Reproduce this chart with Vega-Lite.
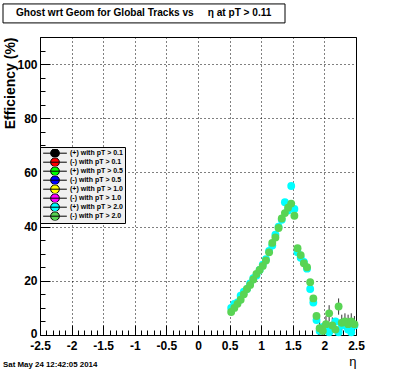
{
  "$schema": "https://vega.github.io/schema/vega-lite/v6.json",
  "background": "white",
  "autosize": "none",
  "width": 316,
  "height": 298,
  "padding": {"left": 40, "top": 37, "right": 40, "bottom": 37},
  "config": {
    "font": "Liberation Sans",
    "view": {"stroke": "black", "strokeWidth": 1, "fill": "white"}
  },
  "resolve": {"axis": {"x": "independent", "y": "independent"}},
  "layer": [
    {
      "data": {"values": [{"part": "title box"}]},
      "mark": {"type": "rect", "fill": "white", "stroke": "black", "strokeWidth": 1, "clip": false},
      "encoding": {
        "x": {"datum": -3.0854, "axis": null},
        "x2": {"datum": 1.3766},
        "y": {"datum": 122.2, "axis": null},
        "y2": {"datum": 115.2}
      }
    },
    {
      "data": {"values": [{"t": "Ghost wrt Geom for Global Tracks vs\u00a0\u00a0\u00a0\u00a0\u00a0η at pT > 0.11"}]},
      "mark": {"type": "text", "fontSize": 10.1, "fontWeight": "bold", "font": "Liberation Sans", "color": "black", "align": "center", "baseline": "middle", "clip": false},
      "encoding": {
        "x": {"datum": -0.86, "axis": null},
        "y": {"datum": 118.7, "axis": null},
        "text": {"field": "t", "type": "nominal"}
      }
    },
    {
      "data": {"values": [{"d": "Sat May 24 12:42:05 2014"}]},
      "mark": {"type": "text", "fontSize": 7.9, "fontWeight": "bold", "font": "Liberation Sans", "color": "black", "align": "left", "baseline": "middle", "clip": false},
      "encoding": {
        "x": {"datum": -3.0854, "axis": null},
        "y": {"datum": -10.9, "axis": null},
        "text": {"field": "d", "type": "nominal"}
      }
    },
    {
      "data": {"name": "eff"},
      "mark": {"type": "rule", "color": "#333333", "strokeWidth": 1},
      "encoding": {
        "x": {"field": "eta", "type": "quantitative", "axis": null},
        "y": {"field": "lo", "type": "quantitative", "axis": null},
        "y2": {"field": "hi"}
      }
    },
    {
      "data": {"name": "eff"},
      "mark": {"type": "point", "filled": true, "shape": "circle", "size": 62, "opacity": 1},
      "encoding": {
        "x": {
          "field": "eta", "type": "quantitative",
          "scale": {"domain": [-2.5, 2.5], "nice": false, "zero": false},
          "axis": {
            "values": [-2.5,-2.4,-2.3,-2.2,-2.1,-2,-1.9,-1.8,-1.7,-1.6,-1.5,-1.4,-1.3,-1.2,-1.1,-1,-0.9,-0.8,-0.7,-0.6,-0.5,-0.4,-0.3,-0.2,-0.1,0,0.1,0.2,0.3,0.4,0.5,0.6,0.7,0.8,0.9,1,1.1,1.2,1.3,1.4,1.5,1.6,1.7,1.8,1.9,2,2.1,2.2,2.3,2.4,2.5],
            "format": "~g",
            "labelExpr": "abs(datum.value*2 - round(datum.value*2)) < 0.001 ? replace(datum.label, '\u2212', '-') : ''",
            "tickSize": {"condition": {"test": "abs(datum.value*2 - round(datum.value*2)) < 0.001", "value": -10}, "value": -5},
            "gridOpacity": {"condition": {"test": "abs(datum.value*2 - round(datum.value*2)) < 0.001", "value": 1}, "value": 0},
            "grid": true, "gridColor": "black", "gridDash": [1, 3], "gridWidth": 1,
            "tickColor": "black", "tickWidth": 1, "domain": false,
            "labelFont": "Liberation Sans", "labelFontSize": 12, "labelFontWeight": "bold", "labelColor": "black",
            "labelPadding": 15, "labelOverlap": false, "labelFlush": false, "labelBound": false,
            "title": "η", "titleAnchor": "end", "titleFontSize": 13, "titleFontWeight": "normal", "titleColor": "black", "titlePadding": -1
          }
        },
        "y": {
          "field": "eff", "type": "quantitative",
          "scale": {"domain": [0, 110], "nice": false, "zero": false},
          "axis": {
            "values": [0,5,10,15,20,25,30,35,40,45,50,55,60,65,70,75,80,85,90,95,100,105,110],
            "format": "d",
            "labelExpr": "datum.value % 20 == 0 ? datum.label : ''",
            "labelOffset": {"condition": {"test": "datum.value == 0", "value": -2}, "value": 0},
            "tickSize": {"condition": {"test": "datum.value % 20 == 0", "value": -10}, "value": -5},
            "gridOpacity": {"condition": {"test": "datum.value % 20 == 0 && datum.value > 0", "value": 1}, "value": 0},
            "grid": true, "gridColor": "black", "gridDash": [1, 3], "gridWidth": 1,
            "tickColor": "black", "tickWidth": 1, "domain": false,
            "labelFont": "Liberation Sans", "labelFontSize": 12, "labelFontWeight": "bold", "labelColor": "black",
            "labelPadding": 13, "labelOverlap": false, "labelFlush": false, "labelBound": false,
            "title": "Efficiency (%)", "titleAnchor": "end", "titleFontSize": 14, "titleFontWeight": "bold", "titleColor": "black", "titlePadding": -1
          }
        },
        "color": {
          "field": "s", "type": "nominal",
          "scale": {
            "domain": ["(+) with pT > 0.1", "(-) with pT > 0.1", "(+) with pT > 0.5", "(-) with pT > 0.5", "(+) with pT > 1.0", "(-) with pT > 1.0", "(+) with pT > 2.0", "(-) with pT > 2.0"],
            "range": ["#000000", "#ff0000", "#00ff00", "#0000ff", "#ffff00", "#ff00ff", "#00ffff", "#59d454"]
          },
          "legend": {
            "orient": "none", "legendX": 0, "legendY": 110,
            "title": null,
            "fillColor": "#f0f0f0", "strokeColor": "black", "padding": 2,
            "labelFont": "Liberation Sans", "labelFontSize": 7, "labelFontWeight": "bold", "labelColor": "black",
            "symbolType": "M-2.7,0L-1,0A1,1 0 0,1 0,-1A1,1 0 0,1 1,0A1,1 0 0,1 0,1A1,1 0 0,1 -1,0L1,0L2.7,0",
            "symbolSize": 77,
            "symbolStrokeColor": "black",
            "symbolStrokeWidth": 1,
            "symbolOffset": 8,
            "labelOffset": 10,
            "clipHeight": 8.4,
            "rowPadding": 0,
            "encode": {
              "symbols": {"update": {
                "shape": {"value": "M-2.7,0L-1,0A1,1 0 0,1 0,-1A1,1 0 0,1 1,0A1,1 0 0,1 0,1A1,1 0 0,1 -1,0L1,0L2.7,0"},
                "size": {"value": 77},
                "stroke": {"value": "black"},
                "strokeWidth": {"value": 1},
                "strokeOpacity": {"value": 1},
                "strokeDash": {"value": [7.46, 36.34, 7.46, 60]},
                "opacity": {"value": 1}
              }}
            }
          }
        }
      }
    }
  ],
  "datasets": {
    "eff": [
      {"s": "(+) with pT > 2.0", "eta": 0.525, "eff": 10},
      {"s": "(+) with pT > 2.0", "eta": 0.575, "eff": 11.5},
      {"s": "(+) with pT > 2.0", "eta": 0.625, "eff": 12},
      {"s": "(+) with pT > 2.0", "eta": 0.675, "eff": 14.5},
      {"s": "(+) with pT > 2.0", "eta": 0.725, "eff": 16},
      {"s": "(+) with pT > 2.0", "eta": 0.775, "eff": 17},
      {"s": "(+) with pT > 2.0", "eta": 0.825, "eff": 19},
      {"s": "(+) with pT > 2.0", "eta": 0.875, "eff": 21},
      {"s": "(+) with pT > 2.0", "eta": 0.925, "eff": 22},
      {"s": "(+) with pT > 2.0", "eta": 0.975, "eff": 24},
      {"s": "(+) with pT > 2.0", "eta": 1.025, "eff": 26},
      {"s": "(+) with pT > 2.0", "eta": 1.075, "eff": 28},
      {"s": "(+) with pT > 2.0", "eta": 1.125, "eff": 31},
      {"s": "(+) with pT > 2.0", "eta": 1.175, "eff": 33},
      {"s": "(+) with pT > 2.0", "eta": 1.225, "eff": 37},
      {"s": "(+) with pT > 2.0", "eta": 1.275, "eff": 40},
      {"s": "(+) with pT > 2.0", "eta": 1.325, "eff": 42.5},
      {"s": "(+) with pT > 2.0", "eta": 1.375, "eff": 49},
      {"s": "(+) with pT > 2.0", "eta": 1.425, "eff": 46},
      {"s": "(+) with pT > 2.0", "eta": 1.475, "eff": 55},
      {"s": "(+) with pT > 2.0", "eta": 1.525, "eff": 46.5},
      {"s": "(+) with pT > 2.0", "eta": 1.575, "eff": 30.5},
      {"s": "(+) with pT > 2.0", "eta": 1.625, "eff": 28.5},
      {"s": "(+) with pT > 2.0", "eta": 1.675, "eff": 27},
      {"s": "(+) with pT > 2.0", "eta": 1.725, "eff": 24.5},
      {"s": "(+) with pT > 2.0", "eta": 1.775, "eff": 17},
      {"s": "(+) with pT > 2.0", "eta": 1.825, "eff": 12},
      {"s": "(+) with pT > 2.0", "eta": 1.875, "eff": 5.5},
      {"s": "(+) with pT > 2.0", "eta": 1.925, "eff": 1.5},
      {"s": "(+) with pT > 2.0", "eta": 1.975, "eff": 3},
      {"s": "(+) with pT > 2.0", "eta": 2.025, "eff": 2},
      {"s": "(+) with pT > 2.0", "eta": 2.075, "eff": 1},
      {"s": "(+) with pT > 2.0", "eta": 2.125, "eff": 3},
      {"s": "(+) with pT > 2.0", "eta": 2.175, "eff": 5},
      {"s": "(+) with pT > 2.0", "eta": 2.225, "eff": 1},
      {"s": "(+) with pT > 2.0", "eta": 2.275, "eff": 3.5},
      {"s": "(+) with pT > 2.0", "eta": 2.325, "eff": 4},
      {"s": "(+) with pT > 2.0", "eta": 2.375, "eff": 2},
      {"s": "(+) with pT > 2.0", "eta": 2.425, "eff": 1},
      {"s": "(+) with pT > 2.0", "eta": 2.475, "eff": 3.5},
      {"s": "(-) with pT > 2.0", "eta": 0.525, "eff": 8.5},
      {"s": "(-) with pT > 2.0", "eta": 0.575, "eff": 10},
      {"s": "(-) with pT > 2.0", "eta": 0.625, "eff": 11.5},
      {"s": "(-) with pT > 2.0", "eta": 0.675, "eff": 13},
      {"s": "(-) with pT > 2.0", "eta": 0.725, "eff": 15},
      {"s": "(-) with pT > 2.0", "eta": 0.775, "eff": 17},
      {"s": "(-) with pT > 2.0", "eta": 0.825, "eff": 18.5},
      {"s": "(-) with pT > 2.0", "eta": 0.875, "eff": 20.5},
      {"s": "(-) with pT > 2.0", "eta": 0.925, "eff": 22.5},
      {"s": "(-) with pT > 2.0", "eta": 0.975, "eff": 24},
      {"s": "(-) with pT > 2.0", "eta": 1.025, "eff": 25.5},
      {"s": "(-) with pT > 2.0", "eta": 1.075, "eff": 27.5},
      {"s": "(-) with pT > 2.0", "eta": 1.125, "eff": 30.5},
      {"s": "(-) with pT > 2.0", "eta": 1.175, "eff": 34},
      {"s": "(-) with pT > 2.0", "eta": 1.225, "eff": 36},
      {"s": "(-) with pT > 2.0", "eta": 1.275, "eff": 39.5},
      {"s": "(-) with pT > 2.0", "eta": 1.325, "eff": 43},
      {"s": "(-) with pT > 2.0", "eta": 1.375, "eff": 45},
      {"s": "(-) with pT > 2.0", "eta": 1.425, "eff": 47},
      {"s": "(-) with pT > 2.0", "eta": 1.475, "eff": 48.5},
      {"s": "(-) with pT > 2.0", "eta": 1.525, "eff": 44},
      {"s": "(-) with pT > 2.0", "eta": 1.575, "eff": 32},
      {"s": "(-) with pT > 2.0", "eta": 1.625, "eff": 29.5},
      {"s": "(-) with pT > 2.0", "eta": 1.675, "eff": 26.5},
      {"s": "(-) with pT > 2.0", "eta": 1.725, "eff": 25},
      {"s": "(-) with pT > 2.0", "eta": 1.775, "eff": 19.5},
      {"s": "(-) with pT > 2.0", "eta": 1.825, "eff": 13.5},
      {"s": "(-) with pT > 2.0", "eta": 1.875, "eff": 7},
      {"s": "(-) with pT > 2.0", "eta": 1.925, "eff": 2.5, "lo": 0, "hi": 5},
      {"s": "(-) with pT > 2.0", "eta": 1.975, "eff": 1.5, "lo": 0, "hi": 4},
      {"s": "(-) with pT > 2.0", "eta": 2.025, "eff": 4, "lo": 1, "hi": 7},
      {"s": "(-) with pT > 2.0", "eta": 2.075, "eff": 8, "lo": 5, "hi": 11},
      {"s": "(-) with pT > 2.0", "eta": 2.125, "eff": 3.5, "lo": 0.5, "hi": 6.5},
      {"s": "(-) with pT > 2.0", "eta": 2.175, "eff": 2, "lo": 0, "hi": 5},
      {"s": "(-) with pT > 2.0", "eta": 2.225, "eff": 10.5, "lo": 7.5, "hi": 13.5},
      {"s": "(-) with pT > 2.0", "eta": 2.275, "eff": 4.5, "lo": 1.5, "hi": 7.5},
      {"s": "(-) with pT > 2.0", "eta": 2.325, "eff": 5, "lo": 2, "hi": 8},
      {"s": "(-) with pT > 2.0", "eta": 2.375, "eff": 4, "lo": 1, "hi": 7.5},
      {"s": "(-) with pT > 2.0", "eta": 2.425, "eff": 5, "lo": 2, "hi": 8},
      {"s": "(-) with pT > 2.0", "eta": 2.475, "eff": 4, "lo": 1, "hi": 7}
    ]
  }
}
